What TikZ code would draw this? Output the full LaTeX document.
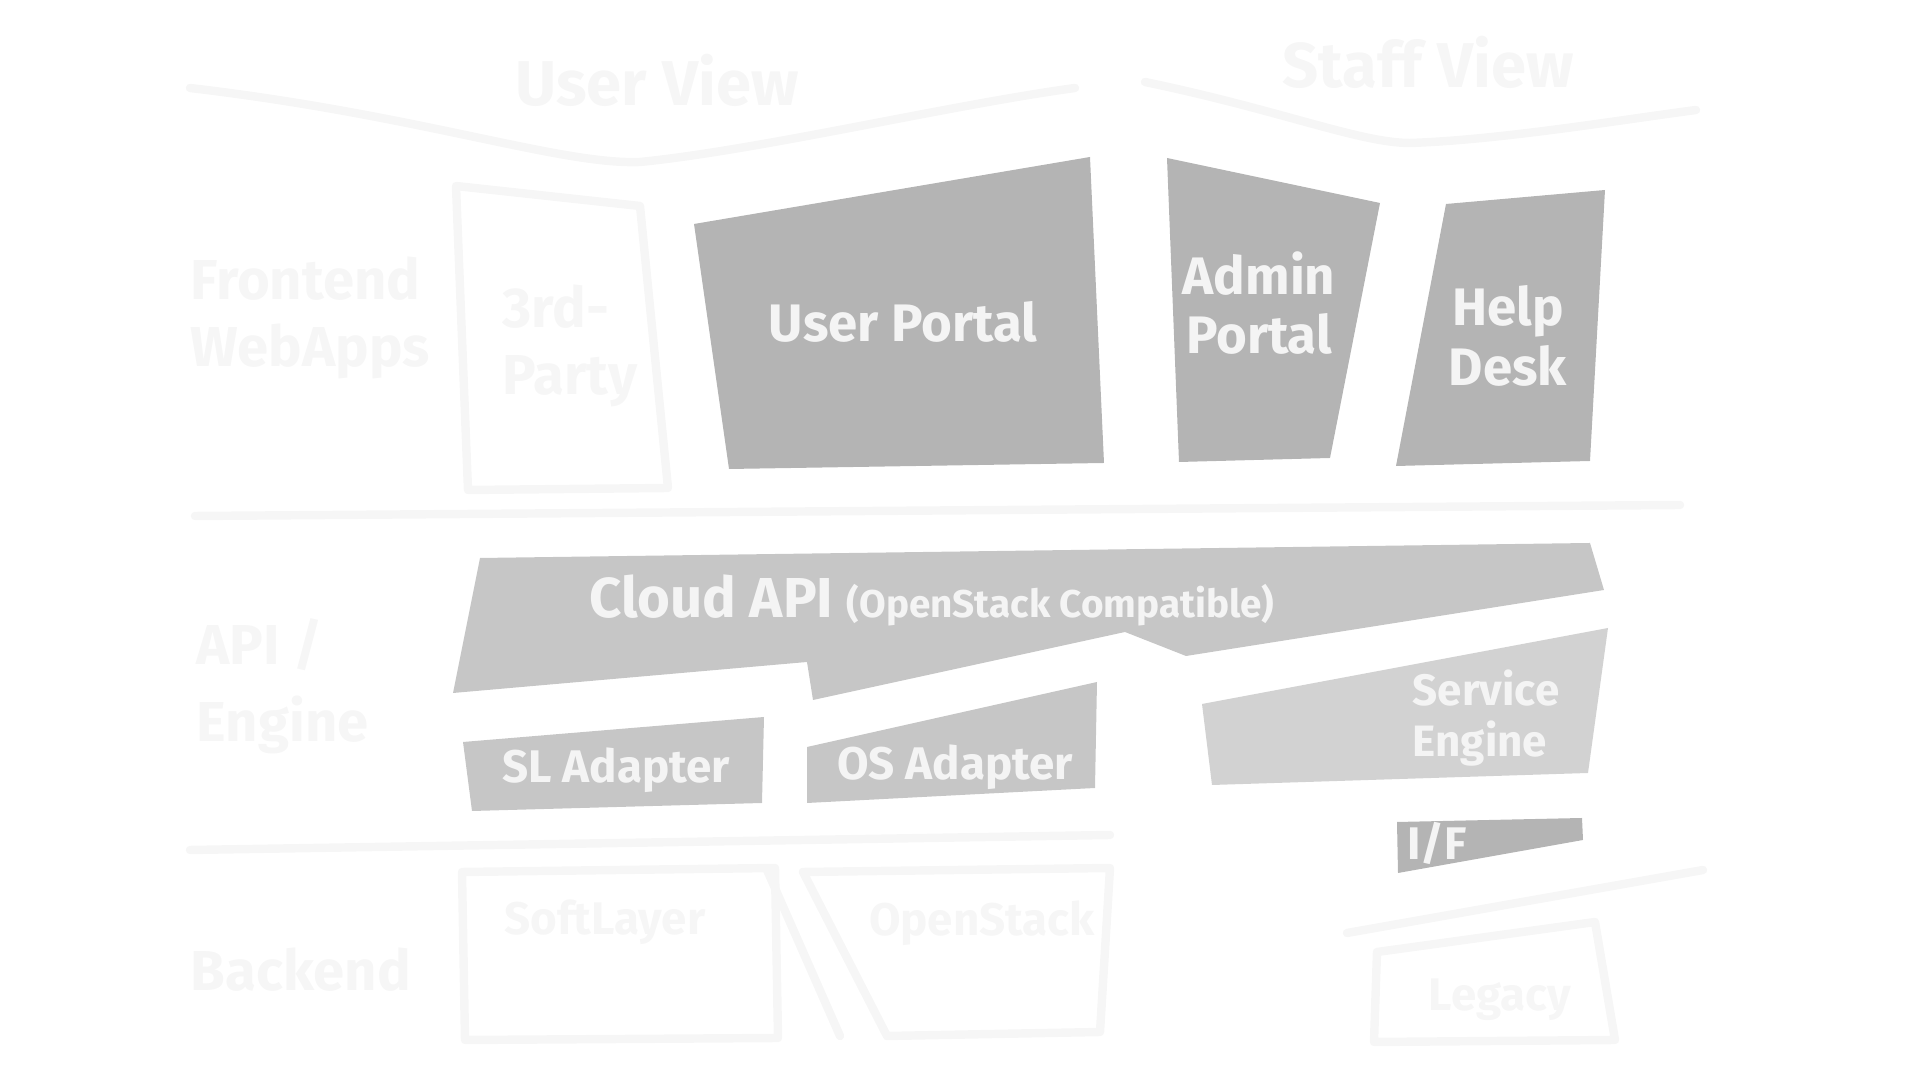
\documentclass[tikz,border=0pt]{standalone}
\usepackage{fontspec}
\setmainfont{Fira Sans}
\usepackage{tikz}
\usetikzlibrary{positioning}

\definecolor{darkblock}{HTML}{B4B4B4}
\definecolor{midblock}{HTML}{C6C6C6}
\definecolor{lightblock}{HTML}{D2D2D2}
\definecolor{ghost}{HTML}{F6F6F6}
\definecolor{blocktxt}{HTML}{F4F4F4}

\tikzstyle{portal} = [fill=darkblock]
\tikzstyle{engine} = [fill=midblock]
\tikzstyle{blocktext} = [text=blocktxt, font=\bfseries, align=center, inner sep=0pt]
\tikzstyle{ghostline} = [draw=ghost, line width=2.4pt, line cap=round, line join=round]
\tikzstyle{ghosttext} = [text=ghost, font=\bfseries, align=left, inner sep=0pt]

\begin{document}
\begin{tikzpicture}[x=0.01cm, y=-0.01cm]
	\useasboundingbox (0,0) rectangle (1920,1080);

	% faint layer labels and frames
	\node (userview) [ghosttext, font=\bfseries\fontsize{18}{20}\selectfont] at (657,80) {User View};
	\node (staffview) [ghosttext, font=\bfseries\fontsize{18}{20}\selectfont] at (1428,62) {Staff View};
	\draw [ghostline] (190,88) .. controls (420,115) and (560,165) .. (640,162) .. controls (760,150) and (950,105) .. (1075,88);
	\draw [ghostline] (1145,82) .. controls (1280,110) and (1360,143) .. (1410,143) .. controls (1500,140) and (1620,120) .. (1696,110);
	\node (frontend) [ghosttext, anchor=west, font=\bfseries\fontsize{16}{19}\selectfont] at (190,318) {Frontend\\WebApps};
	\draw [ghostline] (456,186) -- (640,206) -- (668,488) -- (468,490) -- cycle;
	\node (thirdparty) [ghosttext, anchor=west, font=\bfseries\fontsize{16}{19}\selectfont] at (502,346) {3rd-\\Party};
	\draw [ghostline] (195,516) -- (1680,505);
	\node (apiengine) [ghosttext, anchor=west, font=\bfseries\fontsize{16}{22}\selectfont] at (196,686) {API /\\Engine};
	\draw [ghostline] (190,850) -- (1110,835);
	\node (backend) [ghosttext, anchor=west, font=\bfseries\fontsize{16}{19}\selectfont] at (190,970) {Backend};
	\draw [ghostline] (462,872) -- (775,868) -- (778,1038) -- (465,1040) -- cycle;
	\node (softlayer) [ghosttext, font=\bfseries\fontsize{13}{15}\selectfont] at (605,922) {SoftLayer};
	\draw [ghostline] (803,872) -- (1110,868) -- (1100,1032) -- (887,1036) -- cycle;
	\draw [ghostline] (767,870) -- (840,1036);
	\node (openstack) [ghosttext, font=\bfseries\fontsize{13}{15}\selectfont] at (982,923) {OpenStack};
	\draw [ghostline] (1347,933) -- (1703,870);
	\draw [ghostline] (1377,952) -- (1595,922) -- (1615,1040) -- (1374,1042) -- cycle;
	\node (legacy) [ghosttext, font=\bfseries\fontsize{13}{15}\selectfont] at (1500,1000) {Legacy};

	% frontend blocks
	\fill [portal] (694,224) -- (1090,157) -- (1104,463) -- (729,469) -- cycle;
	\node (userportal) [blocktext, font=\bfseries\fontsize{15}{18}\selectfont] at (903,322) {User Portal};
	\fill [portal] (1167,158) -- (1380,203) -- (1330,458) -- (1179,462) -- cycle;
	\node (adminportal) [blocktext, font=\bfseries\fontsize{15}{17}\selectfont] at (1259,303) {Admin\\Portal};
	\fill [portal] (1446,204) -- (1605,190) -- (1590,461) -- (1396,466) -- cycle;
	\node (helpdesk) [blocktext, font=\bfseries\fontsize{15}{17}\selectfont] at (1508,336) {Help\\Desk};

	% api / engine blocks
	\fill [engine] (480,558) -- (1590,543) -- (1604,590) -- (1186,656) -- (1125,632) -- (813,700) -- (807,662) -- (453,693) -- cycle;
	\node (cloudapi) [blocktext] at (932,600) {\fontsize{16}{18}\selectfont Cloud API \fontsize{11}{13}\selectfont(OpenStack Compatible)};
	\fill [engine] (463,742) -- (764,717) -- (762,803) -- (472,811) -- cycle;
	\node (sladapter) [blocktext, font=\bfseries\fontsize{13}{15}\selectfont] at (616,770) {SL Adapter};
	\fill [engine] (807,747) -- (1097,682) -- (1095,788) -- (807,803) -- cycle;
	\node (osadapter) [blocktext, font=\bfseries\fontsize{13}{15}\selectfont] at (955,767) {OS Adapter};
	\fill [fill=lightblock] (1202,704) -- (1608,628) -- (1588,773) -- (1212,785) -- cycle;
	\node (serviceengine) [blocktext, align=left, font=\bfseries\fontsize{12.5}{14.5}\selectfont] at (1486,718) {Service\\Engine};
	\fill [portal] (1397,822) -- (1582,818) -- (1583,840) -- (1398,873) -- cycle;
	\node (iface) [blocktext, font=\bfseries\fontsize{13}{15}\selectfont] at (1437,843) {I/F};

\end{tikzpicture}
\end{document}
